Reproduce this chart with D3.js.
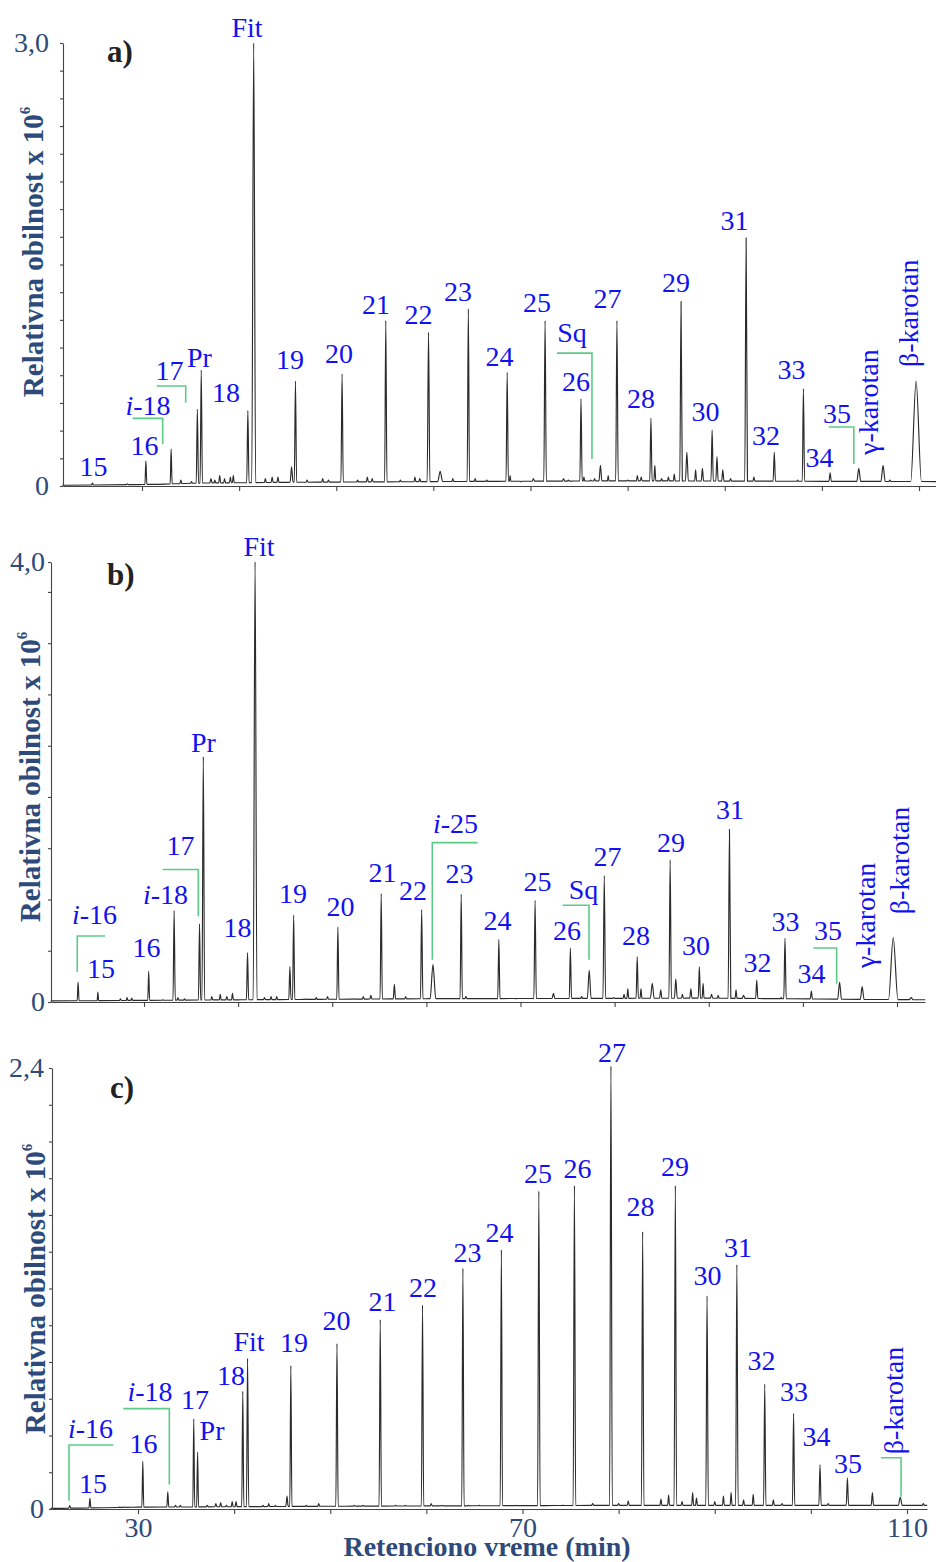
<!DOCTYPE html>
<html><head><meta charset="utf-8">
<script src="https://cdn.jsdelivr.net/npm/d3@7"></script>
<style>body{margin:0;background:#fff}svg{display:block}</style>
</head><body>
<svg id="chart" width="936" height="1562"></svg>
<script>
// ---------------- DATA ----------------
const xTickValues = [30, 40, 50, 60, 70, 80, 90, 100, 110];
const xTickLabelsC = {30: "30", 70: "70", 110: "110"};
const xAxisTitle = "Retenciono vreme (min)";
const yAxisTitle = "Relativna obilnost x 10";
const yAxisTitleSup = "6";
const panelLetters = ["a)", "b)", "c)"];
const yMaxValues = [3.0, 4.0, 2.4];
const yMinorSteps = [0.1875, 0.466, 0.2];

// peaks: [retention time (min), abundance (x10^6), half width (min)]
const peaksA = [
 [24.9,0.02,0.1],[28.5,0.015,0.1],[30.4,0.17,0.1],[33.0,0.25,0.1],[34.0,0.04,0.1],[35.1,0.03,0.1],
 [35.7,0.52,0.12],[36.1,0.785,0.12],[37.1,0.05,0.12],[37.5,0.04,0.1],[38.0,0.07,0.1],[38.5,0.05,0.1],
 [39.1,0.06,0.1],[39.4,0.07,0.1],[40.9,0.51,0.12],[41.5,3.0,0.2],[42.7,0.05,0.1],[43.4,0.06,0.1],
 [44.0,0.06,0.1],[45.4,0.13,0.15],[45.8,0.71,0.12],[47.0,0.04,0.1],[48.6,0.05,0.1],[49.2,0.04,0.1],
 [50.6,0.76,0.12],[52.2,0.04,0.1],[53.2,0.06,0.1],[53.7,0.05,0.1],[55.1,1.12,0.12],[56.6,0.04,0.1],
 [58.1,0.06,0.1],[58.6,0.05,0.1],[59.5,1.04,0.14],[60.7,0.1,0.25],[62.0,0.05,0.1],[63.6,1.20,0.12],
 [64.3,0.05,0.1],[65.5,0.04,0.1],[67.6,0.77,0.12],[67.9,0.07,0.08],[69.0,0.03,0.1],[70.3,0.05,0.12],
 [71.5,1.12,0.13],[73.4,0.05,0.12],[73.9,0.04,0.1],[75.2,0.59,0.12],[75.5,0.06,0.08],[76.2,0.04,0.1],
 [76.6,0.05,0.1],[77.2,0.14,0.15],[78.0,0.07,0.08],[78.9,1.12,0.13],[80.0,0.04,0.1],[81.0,0.07,0.1],
 [81.4,0.06,0.1],[82.4,0.46,0.12],[82.8,0.14,0.1],[83.5,0.05,0.1],[84.2,0.06,0.1],[84.8,0.08,0.1],
 [85.5,1.25,0.13],[86.1,0.23,0.15],[87.0,0.11,0.1],[87.7,0.12,0.12],[88.7,0.38,0.12],[89.2,0.2,0.12],
 [89.8,0.11,0.12],[90.6,0.05,0.1],[92.2,1.68,0.14],[93.0,0.06,0.1],[95.1,0.23,0.12],[97.5,0.04,0.1],
 [98.1,0.66,0.12],[100.85,0.09,0.12],[103.8,0.12,0.2],[106.3,0.14,0.22],[107.0,0.04,0.1],[109.7,0.71,0.55]
];
const baselineA = [[21.8,0.005],[30,0.01],[36,0.02],[45,0.025],[60,0.03],[80,0.035],[111.8,0.03]];

const peaksB = [
 [23.0,0.18,0.1],[25.1,0.09,0.08],[27.5,0.03,0.1],[28.2,0.04,0.1],[28.7,0.035,0.1],[30.5,0.28,0.1],
 [32.0,0.02,0.1],[33.2,0.83,0.12],[33.6,0.04,0.1],[34.3,0.03,0.1],[35.9,0.71,0.12],[36.3,2.23,0.14],
 [37.2,0.05,0.1],[38.1,0.07,0.1],[38.8,0.05,0.1],[39.4,0.08,0.1],[41.0,0.45,0.12],[41.8,4.0,0.2],
 [42.8,0.04,0.1],[43.5,0.05,0.1],[44.1,0.05,0.1],[45.5,0.32,0.12],[45.9,0.79,0.12],[47.2,0.03,0.1],
 [48.3,0.04,0.1],[49.5,0.05,0.1],[50.6,0.68,0.12],[52.2,0.03,0.1],[53.3,0.05,0.1],[54.1,0.06,0.1],
 [55.2,0.985,0.12],[56.6,0.16,0.12],[57.8,0.05,0.1],[59.5,0.84,0.13],[60.7,0.34,0.3],[62.3,0.03,0.1],
 [63.7,0.98,0.12],[64.2,0.05,0.1],[67.7,0.57,0.12],[69.5,0.03,0.1],[71.55,0.925,0.13],[73.5,0.08,0.15],
 [75.3,0.49,0.12],[76.5,0.05,0.1],[77.3,0.29,0.2],[78.9,1.15,0.14],[79.9,0.04,0.1],[81.0,0.07,0.1],
 [81.4,0.12,0.1],[82.4,0.41,0.12],[82.8,0.12,0.1],[84.0,0.17,0.2],[84.9,0.11,0.12],[85.9,1.29,0.13],
 [86.5,0.21,0.15],[87.2,0.07,0.1],[88.1,0.12,0.12],[89.0,0.32,0.12],[89.4,0.17,0.1],[90.3,0.07,0.12],
 [91.0,0.06,0.1],[92.2,1.57,0.14],[92.9,0.11,0.1],[93.7,0.06,0.15],[95.1,0.20,0.12],[97.7,0.04,0.1],
 [98.1,0.58,0.13],[100.9,0.10,0.12],[103.9,0.18,0.2],[106.3,0.14,0.2],[109.6,0.585,0.5],[111.5,0.04,0.2]
];
const baselineB = [[20.1,0.01],[40,0.02],[60,0.03],[90,0.035],[113,0.02]];

const peaksC = [
 [22.9,0.018,0.1],[25.0,0.058,0.1],[28.0,0.01,0.1],[28.6,0.012,0.1],[30.5,0.26,0.1],[33.1,0.094,0.1],
 [33.9,0.02,0.1],[34.4,0.02,0.1],[35.8,0.49,0.1],[36.2,0.31,0.1],[37.2,0.02,0.1],[38.1,0.03,0.1],
 [38.6,0.035,0.1],[39.2,0.02,0.1],[39.8,0.04,0.1],[40.2,0.04,0.1],[40.9,0.64,0.11],[41.4,0.82,0.12],
 [43.0,0.02,0.1],[43.6,0.03,0.1],[44.3,0.02,0.1],[45.5,0.07,0.12],[45.9,0.78,0.11],[47.5,0.02,0.1],
 [48.8,0.03,0.1],[50.7,0.90,0.12],[52.5,0.02,0.1],[53.4,0.02,0.1],[55.2,1.03,0.12],[56.8,0.02,0.1],
 [57.8,0.02,0.1],[59.6,1.11,0.12],[60.5,0.03,0.1],[61.6,0.02,0.1],[63.8,1.31,0.12],[64.4,0.02,0.1],
 [65.5,0.02,0.1],[67.8,1.41,0.12],[69.3,0.02,0.1],[71.7,1.73,0.13],[73.3,0.02,0.1],[74.2,0.02,0.1],
 [75.4,1.76,0.13],[77.3,0.03,0.12],[79.2,2.41,0.14],[80.0,0.03,0.1],[81.0,0.045,0.1],[82.5,1.51,0.13],
 [83.6,0.02,0.1],[84.4,0.054,0.1],[85.2,0.076,0.1],[85.9,1.76,0.13],[86.6,0.04,0.1],[87.7,0.09,0.1],
 [88.1,0.06,0.1],[89.2,1.16,0.13],[90.0,0.04,0.1],[90.9,0.07,0.1],[91.7,0.09,0.1],[92.3,1.33,0.13],
 [93.0,0.05,0.1],[94.0,0.08,0.1],[95.2,0.68,0.12],[96.1,0.05,0.1],[97.0,0.03,0.1],[98.2,0.52,0.12],
 [99.7,0.02,0.1],[100.95,0.24,0.12],[101.8,0.03,0.1],[103.8,0.17,0.12],[106.4,0.09,0.12],
 [109.3,0.064,0.2],[111.7,0.03,0.1]
];
const baselineC = [[20.9,0.003],[30,0.01],[50,0.015],[80,0.02],[112.1,0.02]];

// labels: [text, retention time, abundance] (text anchored by its centre / baseline)
const labelsA = [
 ["15",25.0,0.068],["16",30.26,0.21],["i-18",30.62,0.48],["17",32.83,0.72],["Pr",35.92,0.806],
 ["18",38.65,0.569],["Fit",40.81,3.04],["19",45.24,0.792],["20",50.28,0.833],["21",54.09,1.165],
 ["22",58.47,1.097],["23",62.54,1.253],["24",66.81,0.813],["25",70.67,1.178],["Sq",74.27,0.975],
 ["26",74.69,0.643],["27",77.93,1.205],["28",81.38,0.528],["29",84.98,1.314],["30",88.02,0.44],
 ["31",91.0,1.734],["32",94.25,0.278],["33",96.87,0.725],["34",99.76,0.129],["35",101.56,0.427]
];
const rotLabelsA = [["γ-karotan",105.78,0.21],["β-karotan",109.9,0.806]];
const bracketsA = [
 [[31.51,0.677],[34.5,0.677],[34.5,0.564]],
 [[29.04,0.458],[32.13,0.458],[32.13,0.282]],
 [[72.73,0.90],[76.33,0.90],[76.33,0.183]],
 [[100.71,0.40],[103.29,0.40],[103.29,0.149]]
];

const labelsB = [
 ["i-16",24.74,0.706],["15",25.43,0.218],["16",30.27,0.406],["i-18",32.28,0.888],["17",33.88,1.334],
 ["Pr",36.32,2.273],["18",39.93,0.591],["Fit",42.22,4.052],["19",45.83,0.897],["20",50.88,0.779],
 ["21",55.34,1.091],["22",58.58,0.925],["i-25",63.09,1.54],["23",63.52,1.082],["24",67.56,0.658],
 ["25",71.81,1.006],["Sq",76.69,0.94],["26",74.94,0.561],["27",79.24,1.236],["28",82.27,0.522],
 ["29",85.99,1.364],["30",88.64,0.425],["31",92.26,1.661],["32",95.18,0.273],["33",98.15,0.645],
 ["34",100.92,0.173],["35",102.67,0.567]
];
const rotLabelsB = [["γ-karotan",107.66,0.306],["β-karotan",111.27,0.797]];
const bracketsB = [
 [[25.86,0.60],[22.91,0.60],[22.91,0.273]],
 [[31.99,1.204],[35.77,1.204],[35.77,0.779]],
 [[65.45,1.449],[60.63,1.449],[60.63,0.385]],
 [[74.48,0.879],[77.28,0.879],[77.28,0.385]],
 [[101.11,0.491],[103.59,0.491],[103.59,0.167]]
];

const labelsC = [
 ["i-16",25.06,0.388],["15",25.32,0.089],["16",30.57,0.303],["i-18",31.25,0.588],["17",35.93,0.543],
 ["Pr",37.7,0.376],["18",39.67,0.675],["Fit",41.55,0.861],["19",46.23,0.853],["20",50.65,0.974],
 ["21",55.44,1.079],["22",59.65,1.155],["23",64.28,1.346],["24",67.61,1.455],["25",71.61,1.776],
 ["26",75.72,1.80],["27",79.31,2.431],["28",82.28,1.595],["29",85.87,1.812],["30",89.25,1.219],
 ["31",92.42,1.37],["32",94.86,0.756],["33",98.24,0.588],["34",100.59,0.343],["35",103.86,0.198]
];
const rotLabelsC = [["β-karotan",109.62,0.298]];
const bracketsC = [
 [[27.43,0.348],[22.82,0.348],[22.82,0.045]],
 [[28.47,0.546],[33.26,0.546],[33.26,0.134]],
 [[107.3,0.279],[109.38,0.279],[109.38,0.067]]
];

// ---------------- LAYOUT / STYLE ----------------
const layouts = [
 {axisX:63, endX:936, px30:142, px110:919, yTop:43,  yBot:486,  pad:11, letter:[107,62],   title:[43,252]},
 {axisX:51, endX:925, px30:144, px110:897, yTop:562, yBot:1002, pad:3,  letter:[107,585],  title:[40,777]},
 {axisX:52, endX:927, px30:138, px110:907, yTop:1068,yBot:1509, pad:5,  letter:[110,1098], title:[45,1289]}
];
const COL = {trace:"#2b2b2b", label:"#1212ee", axisText:"#2d4a7a", bracket:"#5ccb87", axis:"#444", letter:"#222"};
const SERIF = "'Liberation Serif','Times New Roman',serif";

const svg = d3.select("#chart");
const data = [
 {peaks:peaksA, base:baselineA, labels:labelsA, rot:rotLabelsA, brackets:bracketsA},
 {peaks:peaksB, base:baselineB, labels:labelsB, rot:rotLabelsB, brackets:bracketsB},
 {peaks:peaksC, base:baselineC, labels:labelsC, rot:rotLabelsC, brackets:bracketsC}
];

function commaFmt(v){ return d3.format(".1f")(v).replace(".", ","); }

function addLabelText(sel, text){
  if (text.startsWith("i-")) {
    sel.append("tspan").attr("font-style","italic").text("i");
    sel.append("tspan").text(text.slice(1));
  } else sel.text(text);
}

data.forEach((P, i) => {
  const L = layouts[i];
  const yMax = yMaxValues[i];
  const x = d3.scaleLinear().domain([30,110]).range([L.px30, L.px110]);
  x.domain([x.invert(L.axisX), x.invert(L.endX)]).range([L.axisX, L.endX]);
  const y = d3.scaleLinear().domain([0, yMax]).range([L.yBot, L.yTop]);
  const g = svg.append("g");

  // trace
  const base = d3.scaleLinear().domain(P.base.map(d=>d[0])).range(P.base.map(d=>d[1]));
  const pts = [];
  P.peaks.forEach(([t,h,w]) => { pts.push([t-w, base(t-w)], [t,h], [t+w, base(t+w)]); });
  P.base.forEach(([t,v]) => { if (!P.peaks.some(([pt,,w]) => Math.abs(t-pt) <= w)) pts.push([t,v]); });
  pts.sort((a,b)=>a[0]-b[0]);
  const clean = pts.filter((p,k)=> k===0 || p[0] > pts[k-1][0] + 1e-6);
  g.append("path").datum(clean)
    .attr("d", d3.line().x(d=>x(d[0])).y(d=>y(d[1])).curve(d3.curveMonotoneX))
    .attr("fill","none").attr("stroke",COL.trace).attr("stroke-width",1.15).attr("stroke-linejoin","round");

  // x axis
  const xa = d3.axisBottom(x).tickValues(xTickValues).tickSize(5).tickSizeOuter(0).tickPadding(3)
    .tickFormat(d => i === 2 ? (xTickLabelsC[d] || "") : "");
  const gx = g.append("g").attr("transform",`translate(0,${L.yBot})`).call(xa);
  gx.selectAll("path,line").attr("stroke",COL.axis).attr("stroke-width",1.1);
  gx.selectAll("text").attr("font-family",SERIF).attr("font-size",28).attr("fill",COL.axisText);

  // y axis
  const yt = d3.range(0, yMax - 1e-6, yMinorSteps[i]).concat([yMax]);
  const ya = d3.axisLeft(y).tickValues(yt).tickSize(3).tickSizeOuter(0).tickPadding(L.pad)
    .tickFormat(d => d === 0 ? "0" : (d === yMax ? commaFmt(d) : ""));
  const gy = g.append("g").attr("transform",`translate(${L.axisX},0)`).call(ya);
  gy.selectAll("path,line").attr("stroke",COL.axis).attr("stroke-width",1.1);
  gy.selectAll("text").attr("font-family",SERIF).attr("font-size",28).attr("fill",COL.axisText);

  // y title
  const tt = g.append("text")
    .attr("transform",`translate(${L.title[0]},${L.title[1]}) rotate(-90)`)
    .attr("text-anchor","middle").attr("font-family",SERIF).attr("font-weight","bold")
    .attr("font-size",29).attr("fill",COL.axisText);
  tt.append("tspan").text(yAxisTitle);
  tt.append("tspan").attr("font-size",15).attr("dy",-13).text(yAxisTitleSup);

  // panel letter
  g.append("text").attr("x",L.letter[0]).attr("y",L.letter[1])
    .attr("font-family",SERIF).attr("font-weight","bold").attr("font-size",31)
    .attr("fill",COL.letter).text(panelLetters[i]);

  // brackets
  g.selectAll("path.br").data(P.brackets).enter().append("path").attr("class","br")
    .attr("d", d3.line().x(d=>x(d[0])).y(d=>y(d[1])))
    .attr("fill","none").attr("stroke",COL.bracket).attr("stroke-width",1.6);

  // labels
  P.labels.forEach(([txt,t,v]) => {
    const s = g.append("text").attr("x",x(t)).attr("y",y(v)).attr("text-anchor","middle")
      .attr("font-family",SERIF).attr("font-size",28).attr("fill",COL.label);
    addLabelText(s, txt);
  });
  P.rot.forEach(([txt,t,v]) => {
    g.append("text").attr("transform",`translate(${x(t)},${y(v)}) rotate(-90)`)
      .attr("text-anchor","start").attr("font-family",SERIF).attr("font-size",28)
      .attr("fill",COL.label).text(txt);
  });

  if (i === 2) {
    g.append("text").attr("x",487).attr("y",1556).attr("text-anchor","middle")
      .attr("font-family",SERIF).attr("font-weight","bold").attr("font-size",28)
      .attr("fill",COL.axisText).text(xAxisTitle);
  }
});
</script>
</body></html>
